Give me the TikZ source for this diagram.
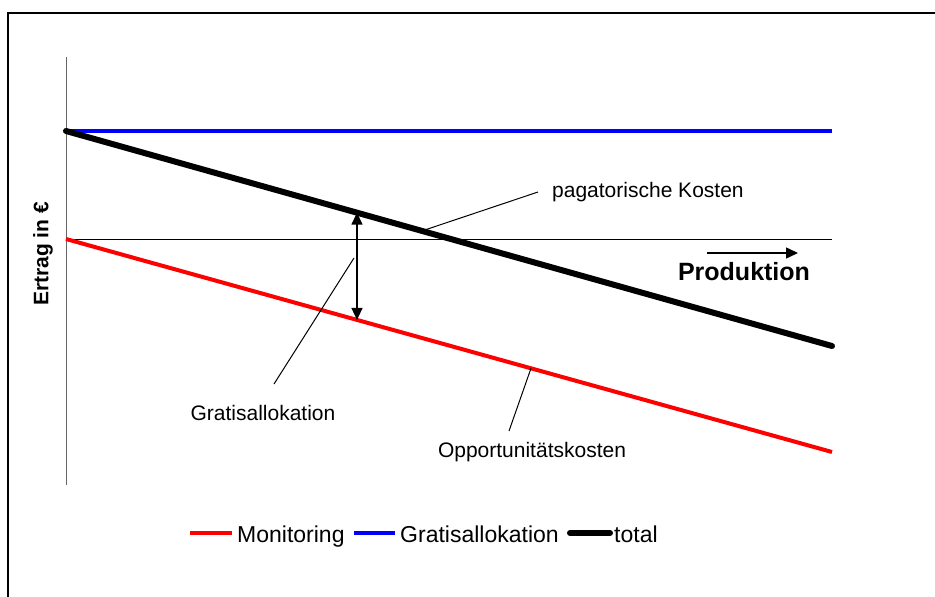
\documentclass[tikz,border=0pt]{standalone}
\usepackage{fontspec}
\setmainfont{Liberation Sans}
\usetikzlibrary{arrows.meta,calc}

\begin{document}
\begin{tikzpicture}[
	x=1pt, y=-1pt,
	lbl/.style={font=\fontsize{21}{25}\selectfont, inner sep=0pt},
	legtext/.style={font=\fontsize{23}{27}\selectfont, inner sep=0pt, anchor=base west},
	title/.style={font=\bfseries\fontsize{25}{29}\selectfont, inner sep=0pt},
	lead/.style={line width=1pt},
	thin/.style={line width=0.9pt},
	arr/.style={-{Triangle[length=12pt,width=11pt]}, line width=1.4pt},
	monitoring/.style={red, line width=4pt},
	gratis/.style={blue, line width=4pt},
	total/.style={black, line width=6pt, line cap=round}
]
\useasboundingbox (0,0) rectangle (935,597);
% Rahmen (nur oben und links sichtbar)
\draw[line width=2.5pt] (8,600) |- (938,13);

% Achsen
\coordinate (ytop) at (66,57);
\coordinate (ybot) at (66,485);
\coordinate (x0) at (66,239);
\coordinate (x1) at (832,239);
\draw[thin, black!60] (ytop) -- (ybot);
\draw[thin] (x0) -- (x1);

% Kurven
\coordinate (g0) at (66,131);
\coordinate (g1) at (832,131);
\coordinate (t1) at (832,346);
\coordinate (m1) at (832,452);
\draw[gratis] (g0) -- (g1);
\draw[monitoring] (x0) -- (m1);
\draw[total] (g0) -- (t1);

% Doppelpfeil zwischen total und Monitoring
\coordinate (dtop) at ($(g0)!{(357-66)/766}!(t1)$);
\coordinate (dbot) at ($(x0)!{(357-66)/766}!(m1)$);
\draw[arr, {Triangle[length=12pt,width=11pt]}-{Triangle[length=12pt,width=11pt]}] (dtop) -- (dbot);

% Achsenbeschriftungen
\node[title, font=\bfseries\fontsize{21}{25}\selectfont, rotate=90] (ertrag) at (43,254) {Ertrag in €};
\node[title] (prod) at (744,272) {Produktion};
\coordinate (pa) at (707,253);
\coordinate (pb) at (798,253);
\draw[arr] (pa) -- (pb);

% Beschriftungen mit Hinweislinien
\node[lbl, anchor=west] (pag) at (552,192) {pagatorische Kosten};
\coordinate (pagfoot) at ($(g0)!{(422-66)/766}!(t1)$);
\coordinate (paghead) at (538,192);
\draw[lead] (pagfoot) -- (paghead);

\node[lbl] (gra) at (263,413) {Gratisallokation};
\coordinate (grahead) at (354,258);
\coordinate (grafoot) at (274,384);
\draw[lead] (grahead) -- (grafoot);

\node[lbl] (opp) at (532,452) {Opportunitätskosten};
\coordinate (oppfoot) at ($(x0)!{(531-66)/766}!(m1)$);
\coordinate (opphead) at (509,431);
\draw[lead] (oppfoot) -- (opphead);

% Legende
\draw[monitoring] (190,533) -- (232,533);
\node[legtext] (lm) at (237,542) {Monitoring};
\draw[gratis] (354,533) -- (395,533);
\node[legtext] (lg) at (400,542) {Gratisallokation};
\draw[total] (570,533) -- (610,533);
\node[legtext] (lt) at (614,542) {total};
\end{tikzpicture}
\end{document}
